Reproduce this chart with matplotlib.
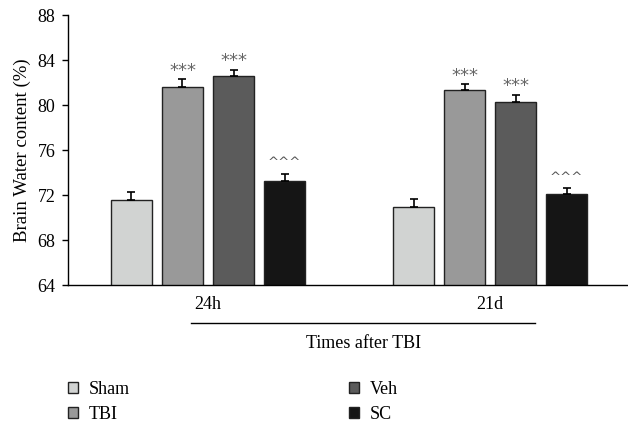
import numpy as np
import matplotlib.pyplot as plt
from matplotlib.lines import Line2D

# data
times = ["24h", "21d"]
groups = ["Sham", "TBI", "Veh", "SC"]
means = {
    "Sham": [71.6, 70.9],
    "TBI": [81.6, 81.3],
    "Veh": [82.55, 80.3],
    "SC": [73.25, 72.1],
}
sems = {
    "Sham": [0.7, 0.7],
    "TBI": [0.7, 0.55],
    "Veh": [0.6, 0.6],
    "SC": [0.65, 0.55],
}
marks = {
    "Sham": ["", ""],
    "TBI": ["***", "***"],
    "Veh": ["***", "***"],
    "SC": ["^^^", "^^^"],
}
colors = {"Sham": "#d1d3d2", "TBI": "#999999", "Veh": "#5b5b5b", "SC": "#151515"}

plt.rcParams["font.family"] = ["Liberation Serif", "DejaVu Serif"]

fig = plt.figure(figsize=(6.28, 4.23), dpi=100)
ax = fig.add_axes([68/628, 138/423, 560/628, 270/423])

centers = np.array([0.0, 5.53])
offsets = [-1.5, -0.5, 0.5, 1.5]
bars = {}
for g, off in zip(groups, offsets):
    x = centers + off
    bars[g] = ax.bar(x, means[g], width=0.8, bottom=0, color=colors[g],
                     edgecolor="#222222", linewidth=1.0, label=g, zorder=2)
    ax.errorbar(x, means[g], yerr=[np.zeros(2), sems[g]], fmt="none",
                ecolor="black", elinewidth=1.2, capsize=3, capthick=1.2, zorder=3)
    for xi, m, s, t in zip(x, means[g], sems[g], marks[g]):
        if t == "***":
            ax.text(xi, m + s + 0.75, t, ha="center", va="center",
                    fontsize=13, color="#666666", family="DejaVu Sans")
        elif t:
            ax.text(xi, m + s + 0.95, t, ha="center", va="center",
                    fontsize=9.5, color="#555555", family="DejaVu Sans")

ax.set_ylim(64, 88)
ax.set_xlim(-2.745, 8.235)
ax.set_yticks(np.arange(64, 89, 4))
ax.tick_params(axis="y", labelsize=13, direction="out", length=4, width=1, pad=5)
ax.set_xticks(centers)
ax.set_xticklabels(times, fontsize=13)
ax.tick_params(axis="x", length=0, pad=8)
ax.set_ylabel("Brain Water content (%)", fontsize=13.5, labelpad=5)
for s in ["top", "right"]:
    ax.spines[s].set_visible(False)
ax.spines["left"].set_linewidth(1)
ax.spines["bottom"].set_linewidth(1)

fig.add_artist(Line2D([191/628, 535/628], [1 - 323/423] * 2, color="black", lw=1))
fig.text(364/628, 1 - 344/423, "Times after TBI", ha="center", va="center", fontsize=13)

leg_kw = dict(loc="upper left", frameon=False, fontsize=13, handlelength=0.55,
              handleheight=0.55, handletextpad=0.6, labelspacing=0.45,
              borderpad=0, borderaxespad=0)
fig.legend([bars["Sham"], bars["TBI"]], ["Sham", "TBI"],
           bbox_to_anchor=(68/628, 1 - 381/423), **leg_kw)
fig.legend([bars["Veh"], bars["SC"]], ["Veh", "SC"],
           bbox_to_anchor=(349/628, 1 - 381/423), **leg_kw)

fig.savefig("out.png", dpi=100)
